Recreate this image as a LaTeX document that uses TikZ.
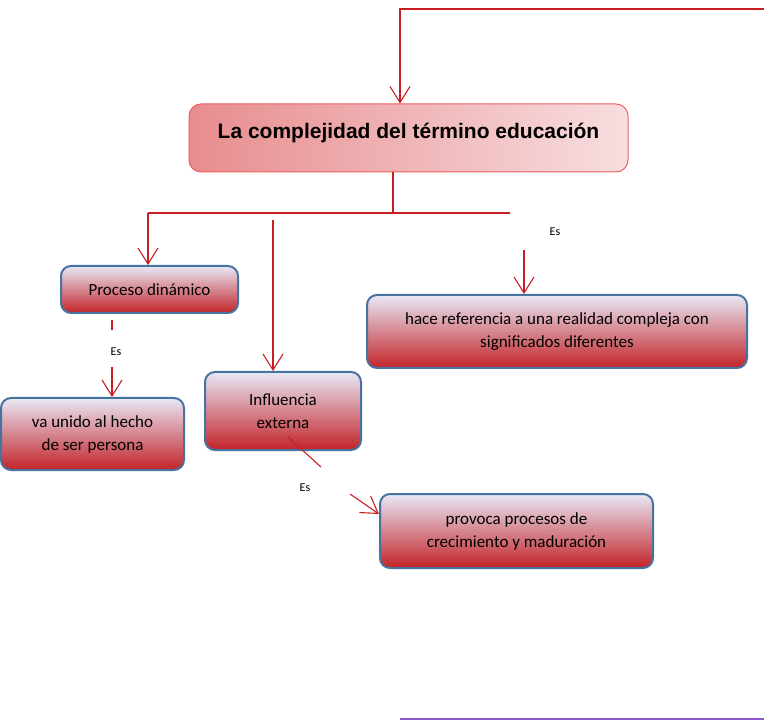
\documentclass[tikz,border=0pt]{standalone}
\usepackage{fontspec}
\setmainfont{Carlito}
\newfontfamily\titlefont{Liberation Sans}
\usepackage{tikz}
\usetikzlibrary{arrows.meta, positioning}
\definecolor{linered}{RGB}{200,30,35}
\definecolor{boxblue}{RGB}{70,115,160}
\definecolor{boxtop}{RGB}{232,232,246}
\definecolor{boxbottom}{RGB}{195,35,40}
\definecolor{titleleft}{RGB}{232,140,142}
\definecolor{titleright}{RGB}{247,222,224}
\definecolor{titleedge}{RGB}{240,95,95}
\definecolor{endline}{RGB}{140,90,200}

\begin{document}
\begin{tikzpicture}[x=1pt, y=-1pt, >={Straight Barb[length=16pt,width=20pt]},
  link/.style={draw=linered, line width=1.1pt},
  conbox/.style={rounded corners=10pt, draw=boxblue, line width=2pt,
    top color=boxtop, bottom color=boxbottom, align=center, inner sep=0pt,
    font=\fontsize{17}{23}\selectfont},
  esnote/.style={font=\fontsize{12}{14}\selectfont}]
  \useasboundingbox (0,0) rectangle (764,722);

  % title
  \node (title) at (408.5,138) [rounded corners=12pt, draw=titleedge, line width=1pt,
    left color=titleleft, right color=titleright, minimum width=439pt, minimum height=68pt,
    inner sep=0pt, text depth=14pt, font=\titlefont\bfseries\fontsize{21}{24}\selectfont]
    {La complejidad del término educación};

  % concepts
  \node (proceso) at (149.5,289.5) [conbox, minimum width=177pt, minimum height=47pt] {Proceso dinámico};
  \node (unido) at (92.5,434) [conbox, minimum width=183pt, minimum height=72pt] {va unido al hecho\\de ser persona};
  \node (influencia) at (283,411) [conbox, minimum width=156pt, minimum height=78pt] {Influencia\\externa};
  \node (referencia) at (557,331.5) [conbox, minimum width=380pt, minimum height=73pt] {hace referencia a una realidad compleja con\\significados diferentes};
  \node (provoca) at (516.5,531) [conbox, minimum width=273pt, minimum height=74pt] {provoca procesos de\\crecimiento y maduración};

  % link words
  \node (es1) at (555,232) [esnote] {Es};
  \node (es2) at (116,352) [esnote] {Es};
  \node (es3) at (305,488) [esnote] {Es};

  % loose ends
  \coordinate (topR) at (764,9);
  \coordinate (topL) at (400,9);
  \coordinate (split) at (393,213);
  \coordinate (splitL) at (148,213);
  \coordinate (splitR) at (510,213);
  \coordinate (midtop) at (273,220);
  \coordinate (estop) at (524,250);
  \coordinate (dashA) at (112,320);
  \coordinate (dashB) at (112,330);
  \coordinate (es2low) at (112,367);
  \coordinate (diagA) at (288,437);
  \coordinate (diagB) at (321,467);
  \coordinate (es3low) at (350,494);

  % connectors
  \draw [link, ->] (topR) -- (topL) -- (topL |- title.north);
  \draw [link] (title.south -| split) -- (split);
  \draw [link] (splitL) -- (splitR);
  \draw [link, ->] (splitL) -- (splitL |- proceso.north);
  \draw [link, ->] (midtop) -- (midtop |- influencia.north);
  \draw [link, ->] (estop) -- (estop |- referencia.north);
  \draw [link] (dashA) -- (dashB);
  \draw [link, ->] (es2low) -- (es2low |- unido.north);
  \draw [link] (diagA) -- (diagB);
  \draw [link, ->] (es3low) -- (provoca.west |- 0,514);
  \draw [draw=endline, line width=1.5pt] (400,719) -- (764,719);
\end{tikzpicture}
\end{document}
